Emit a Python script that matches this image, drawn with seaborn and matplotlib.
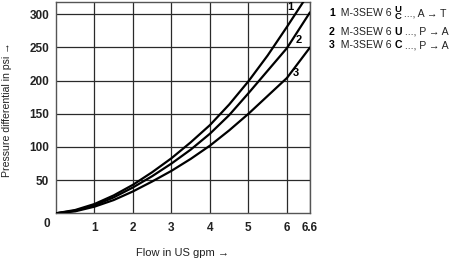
import matplotlib
matplotlib.use("Agg")
import matplotlib.pyplot as plt
import seaborn as sns
import pandas as pd

# ---- data ----
flow_1 = [0, 0.5, 1, 1.5, 2, 2.5, 3, 3.5, 4, 4.5, 5, 5.5, 6, 6.44]
dp_1 = [0, 5, 14, 27, 43, 62, 83, 107, 133, 164, 199, 238, 281, 320]

flow_2 = [0, 0.5, 1, 1.5, 2, 2.5, 3, 3.5, 4, 4.5, 5, 5.5, 6, 6.3, 6.6]
dp_2 = [0, 4, 12, 24, 39, 56, 75, 96, 120, 148, 181, 215, 249, 276, 303]

flow_3 = [0, 0.5, 1, 1.5, 2, 2.5, 3, 3.5, 4, 4.5, 5, 5.5, 6, 6.3, 6.6]
dp_3 = [0, 3, 10, 20, 33, 48, 64, 82, 102, 125, 150, 177, 204, 227, 250]

curve_ids = ["1", "2", "3"]
x_ticks = [1, 2, 3, 4, 5, 6, 6.6]
x_tick_labels = ["1", "2", "3", "4", "5", "6", "6.6"]
y_ticks = [50, 100, 150, 200, 250, 300]
y_tick_labels = ["50", "100", "150", "200", "250", "300"]
legend_models = ["M-3SEW 6", "M-3SEW 6", "M-3SEW 6"]
legend_codes = ["U\nC", "U", "C"]
legend_tails = ["..., A \u2192 T", "..., P \u2192 A", "..., P \u2192 A"]
x_label = "Flow in US gpm \u2192"
y_label = "Pressure differential in psi \u2192"

df = pd.concat([
    pd.DataFrame({"flow": flow_1, "dp": dp_1, "curve": curve_ids[0]}),
    pd.DataFrame({"flow": flow_2, "dp": dp_2, "curve": curve_ids[1]}),
    pd.DataFrame({"flow": flow_3, "dp": dp_3, "curve": curve_ids[2]}),
])

sns.set_style("white")
plt.rcParams["font.family"] = ["Liberation Sans", "DejaVu Sans"]

W, H = 453, 261
fig = plt.figure(figsize=(W / 100, H / 100), dpi=100)
ax = fig.add_axes([56 / W, 1 - 213.3 / H, (310 - 56) / W, (213.3 - 1.7) / H])

sns.lineplot(data=df, x="flow", y="dp", hue="curve", units="curve", estimator=None,
             palette=["black", "black", "black"], linewidth=1.6, legend=False,
             sort=False, ax=ax, zorder=3)
for ln in ax.lines:
    ln.set_solid_joinstyle("round")

ax.set_xlim(0, 6.6)
ax.set_ylim(0, 319)
ax.set_xticks(x_ticks)
ax.set_xticklabels(x_tick_labels, fontweight="bold", fontsize=8.5)
ax.set_yticks(y_ticks)
ax.set_yticklabels(y_tick_labels, fontweight="bold", fontsize=8.5)
ax.tick_params(axis="both", length=0, colors="#222222")
ax.tick_params(axis="x", pad=6)
ax.tick_params(axis="y", pad=5)
ax.grid(True, color="#2a2a2a", linewidth=0.9)
for s in ax.spines.values():
    s.set_color("#555555")
    s.set_linewidth(1.0)

ax.set_xlabel("")
ax.set_ylabel("")
fig.text(182 / W, 1 - 253 / H, x_label, fontsize=8,
         ha="center", va="center", color="#222222")
fig.text(7 / W, 1 - 110 / H, y_label, fontsize=7.6,
         rotation=90, ha="center", va="center", color="#222222")
fig.text(47 / W, 1 - 224 / H, "0", fontweight="bold", fontsize=8.5,
         ha="center", va="center", color="#222222")

# curve numbers
for cid, (px, py) in zip(curve_ids, [(290.7, 6.7), (298.3, 40), (296, 72.7)]):
    fig.text(px / W, 1 - py / H, cid, fontweight="bold", fontsize=8,
             ha="center", va="center", color="black")

# legend block
fs = 7.6
for i, row_y in enumerate([13, 31.7, 45]):
    t_num = fig.text(329 / W, 1 - row_y / H, curve_ids[i], fontweight="bold",
                     fontsize=fs, ha="left", va="center", color="black")
    t_mod = ax.annotate("  " + legend_models[i] + " ", xy=(1, 0), xycoords=t_num,
                        ha="left", va="bottom", fontsize=fs,
                        color="#222222", annotation_clip=False)
    if "\n" in legend_codes[i]:
        t_code = ax.annotate(legend_codes[i], xy=(1, 0.5), xycoords=t_mod,
                             ha="left", va="center", fontweight="bold", fontsize=6.8,
                             linespacing=0.85, color="black", annotation_clip=False)
    else:
        t_code = ax.annotate(legend_codes[i], xy=(1, 0), xycoords=t_mod,
                             ha="left", va="bottom", fontweight="bold", fontsize=fs,
                             color="black", annotation_clip=False)
    ax.annotate(" " + legend_tails[i], xy=(1, 0), xycoords=(t_code, t_mod),
                ha="left", va="bottom", fontsize=fs,
                color="#222222", annotation_clip=False)

fig.savefig("out.png", dpi=100)
